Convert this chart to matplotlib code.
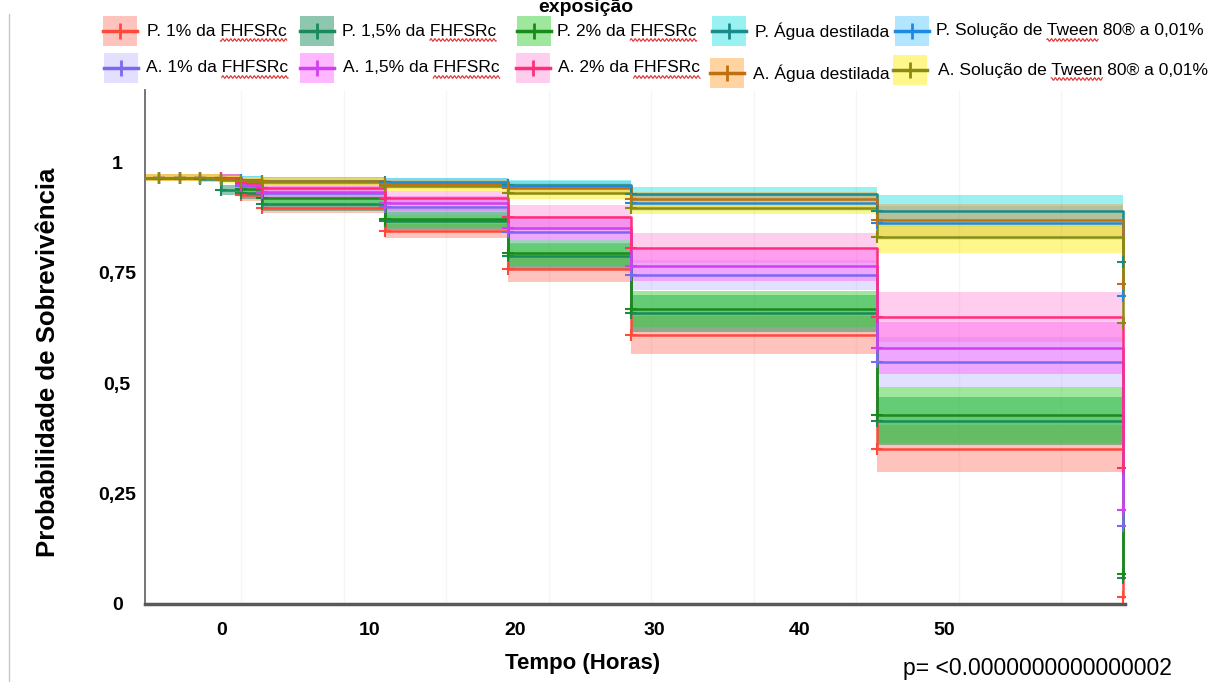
import numpy as np
import matplotlib
matplotlib.use("Agg")
import matplotlib.pyplot as plt
from matplotlib.patches import Rectangle

plt.rcParams['font.family'] = ['Liberation Sans', 'DejaVu Sans']

# time points (hours) where the curves step / get censor marks
times = [0, 2, 4, 6, 8, 10, 12, 24, 36, 48, 72, 96]

labels = ["P. 1% da FHFSRc", "P. 1,5% da FHFSRc", "P. 2% da FHFSRc",
          "P. Água destilada", "P. Solução de Tween 80® a 0,01%",
          "A. 1% da FHFSRc", "A. 1,5% da FHFSRc", "A. 2% da FHFSRc",
          "A. Água destilada", "A. Solução de Tween 80® a 0,01%"]

# survival estimates
surv_p1 = [.964, .964, .964, .964, .964, .925, .896, .844, .758, .609, .351, .016]
surv_p15 = [.964, .964, .964, .964, .937, .930, .905, .867, .787, .658, .414, .059]
surv_p2 = [.964, .964, .964, .964, .964, .940, .918, .872, .794, .667, .428, .068]
surv_pag = [.964, .964, .964, .962, .962, .960, .958, .955, .948, .928, .889, .774]
surv_ptw = [.964, .964, .964, .964, .962, .960, .957, .953, .945, .907, .862, .697]
surv_a1 = [.964, .964, .964, .964, .964, .945, .930, .898, .842, .744, .548, .176]
surv_a15 = [.964, .964, .964, .964, .964, .948, .933, .907, .851, .765, .579, .213]
surv_a2 = [.964, .964, .964, .964, .964, .952, .941, .918, .876, .805, .649, .308]
surv_aag = [.964, .964, .964, .964, .962, .958, .956, .950, .941, .916, .869, .724]
surv_atw = [.964, .964, .964, .964, .960, .957, .955, .945, .930, .896, .830, .636]

# confidence band limits
lo_p1 = [.956, .956, .956, .956, .956, .912, .884, .828, .728, .566, .299, .016]
hi_p1 = [.972, .972, .972, .972, .972, .938, .908, .860, .788, .652, .405, .016]
lo_p15 = [.956, .956, .956, .956, .925, .917, .890, .846, .757, .616, .360, .059]
hi_p15 = [.972, .972, .972, .972, .949, .943, .920, .888, .817, .700, .468, .059]
lo_p2 = [.956, .956, .956, .956, .956, .928, .904, .851, .765, .626, .365, .068]
hi_p2 = [.972, .972, .972, .972, .972, .952, .932, .893, .823, .708, .491, .068]
lo_pag = [.956, .956, .956, .954, .954, .952, .949, .945, .936, .912, .853, .774]
hi_pag = [.972, .972, .972, .970, .970, .968, .967, .965, .960, .944, .925, .774]
lo_ptw = [.956, .956, .956, .956, .954, .952, .948, .943, .933, .889, .824, .697]
hi_ptw = [.972, .972, .972, .972, .970, .968, .966, .963, .957, .925, .900, .697]
lo_a1 = [.956, .956, .956, .956, .956, .933, .916, .880, .815, .710, .491, .176]
hi_a1 = [.972, .972, .972, .972, .972, .957, .944, .916, .869, .778, .605, .176]
lo_a15 = [.956, .956, .956, .956, .956, .936, .919, .890, .824, .730, .520, .213]
hi_a15 = [.972, .972, .972, .972, .972, .960, .947, .924, .878, .800, .638, .213]
lo_a2 = [.956, .956, .956, .956, .956, .941, .928, .902, .850, .772, .592, .308]
hi_a2 = [.972, .972, .972, .972, .972, .963, .954, .934, .902, .839, .706, .308]
lo_aag = [.956, .956, .956, .956, .954, .950, .947, .940, .929, .899, .832, .724]
hi_aag = [.972, .972, .972, .972, .970, .966, .965, .960, .953, .933, .906, .724]
lo_atw = [.956, .956, .956, .956, .952, .948, .945, .933, .917, .882, .794, .636]
hi_atw = [.972, .972, .972, .972, .968, .966, .965, .957, .943, .910, .866, .636]

surv = [surv_p1, surv_p15, surv_p2, surv_pag, surv_ptw, surv_a1, surv_a15, surv_a2, surv_aag, surv_atw]
lows = [lo_p1, lo_p15, lo_p2, lo_pag, lo_ptw, lo_a1, lo_a15, lo_a2, lo_aag, lo_atw]
highs = [hi_p1, hi_p15, hi_p2, hi_pag, hi_ptw, hi_a1, hi_a15, hi_a2, hi_aag, hi_atw]

line_colors = ["#FF4A3A", "#1A8A5A", "#1A8A1A", "#1A8A8A", "#1E88E5",
               "#7B68EE", "#D040F0", "#FF2D7A", "#C07010", "#8B8B10"]
band_colors = ["#FF6A5A", "#1E9060", "#3CD23C", "#20E0E0", "#40C0FF",
               "#B0A8FF", "#FF60FF", "#FF70D0", "#FFA030", "#FFF040"]
band_alpha = [0.4, 0.5, 0.5, 0.45, 0.4, 0.35, 0.45, 0.35, 0.45, 0.6]

tick_pos = [8.1, 22.5, 36.7, 50.3, 64.5, 78.6]
tick_lab = ["0", "10", "20", "30", "40", "50"]

W, H = 1216, 682
fig = plt.figure(figsize=(W / 100, H / 100), dpi=100)
ax = fig.add_axes([145 / W, 1 - 604 / H, 980 / W, 514 / H])

for s, lo, hi, c, a in zip(surv, lows, highs, band_colors, band_alpha):
    ax.fill_between(times, lo, hi, step="post", color=c, alpha=a, lw=0, zorder=1)

ax.vlines(np.arange(10, 100, 10), 0, 1.163, color=(0.5, 0.5, 0.5, 0.08), lw=1, zorder=2)

for s, c in zip(surv, line_colors):
    ax.step(times, s, where="post", color=c, lw=1.8, zorder=3)
    ax.plot(times[1:], s[1:], "+", color=c, ms=9, mew=1.5, zorder=4)

ax.set_xlim(0.6, 96.2)
ax.set_ylim(0, 1.163)
ax.set_xticks(tick_pos)
ax.set_xticklabels(tick_lab, fontsize=14, fontweight="bold")
ax.set_yticks([0, 0.25, 0.5, 0.75, 1])
ax.set_yticklabels(["0", "0,25", "0,5", "0,75", "1"], fontsize=14, fontweight="bold")
ax.tick_params(axis="x", length=0, pad=13)
ax.tick_params(axis="y", length=0, pad=20)
for lbl in ax.get_yticklabels():
    lbl.set_horizontalalignment("center")
for side in ["top", "right"]:
    ax.spines[side].set_visible(False)
ax.spines["bottom"].set_color("#595959")
ax.spines["bottom"].set_linewidth(2.5)
ax.spines["left"].set_color("#6a6a6a")
ax.spines["left"].set_linewidth(1.3)

fig.text(48 / W, 1 - 362 / H, "Probabilidade de Sobrevivência", rotation=90,
         ha="center", va="center", fontsize=18.5, fontweight="bold")
fig.text(583 / W, 1 - 664 / H, "Tempo (Horas)", ha="center", va="center",
         fontsize=16, fontweight="bold")
fig.text(1172 / W, 1 - 668 / H, "p= <0.0000000000000002", ha="right", va="center",
         fontsize=16.5)

# overlay in pixel coordinates for legend and decorations
lax = fig.add_axes([0, 0, 1, 1])
lax.set_xlim(0, W)
lax.set_ylim(H, 0)
lax.axis("off")
lax.patch.set_visible(False)

lax.plot([9, 9], [14, H], color="#c8c8c8", lw=1)
lax.text(586, 12, "exposição", ha="center", va="baseline", fontsize=14, fontweight="bold")

patch_x = [103, 300, 517, 712, 895, 104, 300, 516, 710, 893]
text_x = [147, 342, 557, 755, 936, 146, 343, 558, 753, 938]
row_y = [31, 31, 31, 31, 31, 68, 68, 68, 73, 70]
underline = ["FHFSRc", "FHFSRc", "FHFSRc", None, "Tween",
             "FHFSRc", "FHFSRc", "FHFSRc", None, "Tween"]

renderer = fig.canvas.get_renderer()
for i, lab in enumerate(labels):
    px, tx, y = patch_x[i], text_x[i], row_y[i]
    lax.add_patch(Rectangle((px, y - 15), 34, 30, facecolor=band_colors[i],
                            alpha=band_alpha[i], lw=0))
    lax.plot([px, px + 34], [y, y], color=line_colors[i], lw=2.5)
    lax.plot(px + 17, y, "+", color=line_colors[i], ms=11, mew=2)
    lax.text(tx, y, lab, ha="left", va="center", fontsize=12.5)
    word = underline[i]
    if word:
        head = lab[:lab.index(word) + len(word)]
        t1 = lax.text(0, 0, head, fontsize=12.5)
        t2 = lax.text(0, 0, word, fontsize=12.5)
        w1 = t1.get_window_extent(renderer).width
        w2 = t2.get_window_extent(renderer).width
        t1.remove()
        t2.remove()
        x1 = tx + w1
        x0 = x1 - w2
        xs = np.linspace(x0, x1, int(w2 * 2))
        lax.plot(xs, y + 9 + 1.3 * np.sin(xs * 1.6), color="#e03030", lw=0.8)

fig.savefig("out.png", dpi=100)
